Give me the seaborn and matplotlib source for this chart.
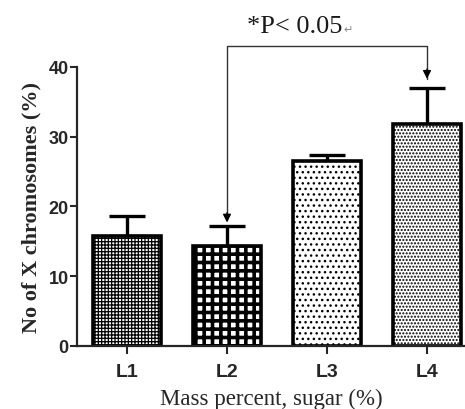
import matplotlib
matplotlib.use("Agg")
import matplotlib.pyplot as plt
import seaborn as sns
import pandas as pd

categories = ["L1", "L2", "L3", "L4"]
means = [15.8, 14.3, 26.5, 31.8]
errors = [2.8, 2.9, 0.9, 5.2]
yticks = [0, 10, 20, 30, 40]
annot_text = "*P< 0.05"
xlabel = "Mass percent, sugar (%)"
ylabel = "No of X chromosomes (%)"

sns.set_style("ticks")
plt.rcParams["font.family"] = ["Liberation Sans", "DejaVu Sans"]

df = pd.DataFrame({"level": categories, "value": means})

fig = plt.figure(figsize=(4.65, 4.10), dpi=100)
ax = fig.add_axes([0.1656, 0.1537, 0.8344, 0.6805])

sns.barplot(data=df, x="level", y="value", hue="level", palette=["white"] * 4,
            edgecolor="black", linewidth=2.6, width=0.68, errorbar=None,
            legend=False, ax=ax, zorder=2)

hatches = ["+++++", "++", "...", "....."]
hatch_lw = [0.9, 2.6, 1.0, 1.0]
bars = ax.patches[:4]
for p, h, lw in zip(bars, hatches, hatch_lw):
    p.set_hatch(h)
    try:
        p.set_hatch_linewidth(lw)
    except Exception:
        pass

centers = [p.get_x() + p.get_width() / 2 for p in bars]
ax.errorbar(centers, means, yerr=[[0] * 4, errors], fmt="none", ecolor="black",
            elinewidth=2.4, capsize=13, capthick=2.4, zorder=1)

ax.set_ylim(0, 40)
ax.set_xlim(-0.5, 3.38)
ax.set_yticks(yticks)
ax.set_yticklabels([str(t) for t in yticks], fontsize=13, fontweight="bold")
ax.set_xticks(range(4))
ax.set_xticklabels(categories, fontsize=14, fontweight="bold")
ax.tick_params(axis="y", length=5, width=1.5, pad=1)
ax.tick_params(axis="x", length=6, width=1.5, pad=6)
for s in ["top", "right"]:
    ax.spines[s].set_visible(False)
for s in ["left", "bottom"]:
    ax.spines[s].set_linewidth(1.6)

ax.set_xlabel(xlabel, fontsize=16.5, family=["Liberation Serif", "DejaVu Serif"], labelpad=6)
ax.set_ylabel(ylabel, fontsize=16, fontweight="bold",
              family=["Liberation Serif", "DejaVu Serif"], labelpad=5)

# significance bracket
top = 43.0
ax.plot([centers[1], centers[1], centers[3], centers[3]],
        [18.0, top, top, 38.3], color="#333333", lw=1.0, clip_on=False, zorder=3)
for c, tip in [(centers[1], 17.7), (centers[3], 38.3)]:
    ax.annotate("", xy=(c, tip), xytext=(c, tip + 1.4),
                arrowprops=dict(arrowstyle="-|>", color="black", lw=1.0,
                                mutation_scale=12, shrinkA=0, shrinkB=0),
                annotation_clip=False)

ax.text(2.15, 45.9, annot_text, ha="right", va="center", fontsize=19,
        family=["Liberation Serif", "DejaVu Serif"], color="#1a1a1a", clip_on=False)
ax.text(2.16, 45.4, "\u21b5", ha="left", va="center", fontsize=8,
        family=["DejaVu Sans"], color="#888888", clip_on=False)

fig.savefig("out.png", dpi=100)
